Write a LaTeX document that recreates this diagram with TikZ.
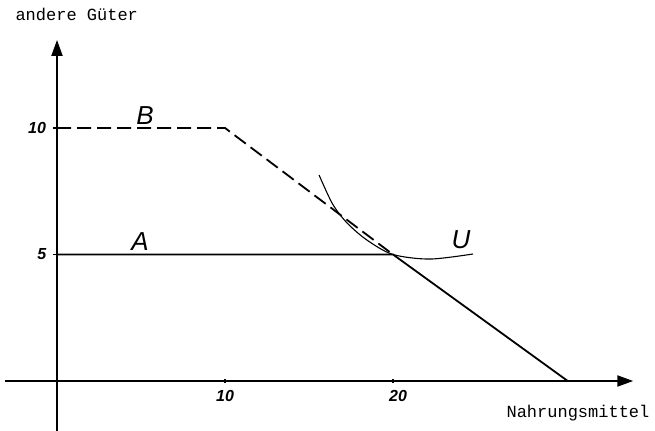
\documentclass[tikz,border=0pt]{standalone}
\usepackage{fontspec}
\setsansfont{Liberation Sans}
\newfontfamily\typefont{Liberation Mono}
\usetikzlibrary{arrows.meta}
\tikzset{
  axis/.style={line width=2.1pt,-{Triangle[length=16pt,width=11pt]}},
  budget/.style={line width=1.8pt},
  budgetdash/.style={line width=1.8pt,dash pattern=on 14pt off 6pt},
  pref/.style={line width=1.1pt},
  tickmark/.style={line width=1.5pt},
  axislabel/.style={font=\typefont\fontsize{17}{19}\selectfont,anchor=west},
  ticklabel/.style={font=\sffamily\bfseries\itshape\fontsize{16}{18}\selectfont},
  linelabel/.style={font=\sffamily\itshape\fontsize{26}{28}\selectfont}
}

\begin{document}
\begin{tikzpicture}[x=16.8pt,y=25.3pt]
\path[use as bounding box] (-3.393,-1.976) rectangle (35.595,15.059);
\coordinate (xl) at (-3.1,0);
\coordinate (xr) at (34.3,0);
\coordinate (yb) at (0,-1.98);
\coordinate (yt) at (0,13.48);
\coordinate (b0) at (0,10);
\coordinate (b1) at (10,10);
\coordinate (a0) at (0,5);
\coordinate (k) at (20,5);
\coordinate (e) at (30.4,0);
\draw[axis] (xl) -- (xr);
\draw[axis] (yb) -- (yt);
\foreach \v in {10,20}
  \draw[tickmark] (\v,-0.08) -- (\v,0.08);
\foreach \v in {5,10}
  \draw[tickmark] (-0.25,\v) -- (0,\v);
\draw[budgetdash] (b0) -- (b1) -- (k);
\draw[budget] (a0) -- (k) -- (e);
\draw[pref] plot[smooth] coordinates {(15.6,8.14) (16.4,7.0) (17.26,6.25) (18.45,5.57) (20,5) (22.2,4.82) (24.76,5.02)};
\node[axislabel] (ylab) at (-2.68,14.47) {andere Güter};
\node[axislabel] (xlab) at (26.55,-1.26) {Nahrungsmittel};
\node[ticklabel] (x10) at (10,-0.6) {10};
\node[ticklabel] (x20) at (20.3,-0.6) {20};
\node[ticklabel] (y10) at (-1.19,10) {10};
\node[ticklabel] (y5) at (-0.9,5) {5};
\node[linelabel] (lb) at (5.24,10.51) {B};
\node[linelabel] (la) at (4.94,5.53) {A};
\node[linelabel] (lu) at (24.05,5.57) {U};
\end{tikzpicture}
\end{document}
